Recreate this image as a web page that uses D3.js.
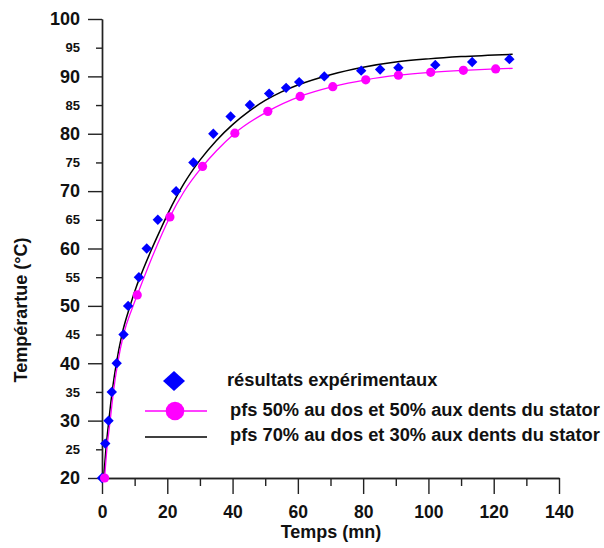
<!DOCTYPE html>
<html>
<head>
<meta charset="utf-8">
<script src="https://cdn.jsdelivr.net/npm/d3@7"></script>
<style>
  body { margin: 0; background: #fff; }
  text { font-family: "Liberation Sans", Arial, sans-serif; font-weight: bold; fill: #111; }
</style>
</head>
<body>
<div id="chart"></div>
<script>
// experimental measurements (time in min, temperature in °C)
const expTime = [0, 1, 2, 3, 4.5, 6.6, 8, 11.3, 13.7, 17.1, 22.7, 28, 34.1, 39.4, 45.3, 51.2, 56.4, 60.4, 68.1, 79.4, 85.2, 90.8, 102.1, 113.4, 124.8];
const expTemp = [20, 26, 30, 35, 40, 45, 50, 55, 60, 65, 70, 75, 80, 83, 85, 87, 88, 89, 90, 91, 91.2, 91.5, 92, 92.5, 93];

// model pfs 50/50 (magenta): curve + markers
const m50Time = [0.8, 1.5, 2.5, 3.5, 4.8, 6.6, 9.2, 10.8, 15, 20.8, 25, 30.8, 35, 40.7, 50.8, 60.7, 70.7, 80.8, 90.8, 100.7, 110.7, 120.6, 125.8];
const m50Temp = [20, 25, 30, 35, 40, 45, 49.5, 51.9, 58, 65.5, 69.8, 74.3, 77, 80.1, 83.9, 86.5, 88.2, 89.4, 90.2, 90.7, 91.05, 91.3, 91.4];
const m50MarkTime = [0.8, 10.8, 20.8, 30.8, 40.7, 50.8, 60.7, 70.7, 80.8, 90.8, 100.7, 110.7, 120.6];
const m50MarkTemp = [20, 51.9, 65.5, 74.3, 80.1, 83.9, 86.5, 88.2, 89.4, 90.2, 90.7, 91.05, 91.3];

// model pfs 70/30 (black)
const m70Time = [0.5, 1.2, 2.1, 3.1, 4.4, 6.1, 8.6, 10.5, 12.5, 15, 17.6, 20.3, 25, 30, 35, 40, 45, 50, 55, 60, 70, 80, 90, 100, 110, 125.8];
const m70Temp = [20, 25, 30, 35, 40, 45, 50, 53.3, 56.2, 59.6, 62.9, 66.2, 71.2, 75.4, 78.8, 81.6, 83.9, 85.8, 87.3, 88.5, 90.3, 91.6, 92.5, 93.05, 93.45, 93.85];

const xMajor = [0, 20, 40, 60, 80, 100, 120, 140];
const xMinor = [10, 30, 50, 70, 90, 110, 130];
const yMajor = [20, 30, 40, 50, 60, 70, 80, 90, 100];
const yMinor = [25, 35, 45, 55, 65, 75, 85, 95];

const legendLabels = [
  "résultats expérimentaux",
  "pfs 50% au dos et 50% aux dents du stator",
  "pfs 70% au dos et 30% aux dents du stator"
];

const width = 604, height = 548;
const svg = d3.select("#chart").append("svg")
  .attr("width", width)
  .attr("height", height);

const x = d3.scaleLinear().domain([0, 140]).range([102, 559]);
const y = d3.scaleLinear().domain([20, 100]).range([478, 19]);

const axisColor = "#222";

// x axis
const gx = svg.append("g").attr("transform", `translate(0, ${y(20)})`);
gx.append("g")
  .call(d3.axisBottom(x).tickValues(xMinor).tickSize(8).tickSizeOuter(0).tickFormat(""));
gx.append("g")
  .call(d3.axisBottom(x).tickValues(xMajor).tickSize(16).tickSizeOuter(0).tickPadding(12))
  .selectAll("text").style("font-size", "17.5px");

// y axis
const gy = svg.append("g").attr("transform", `translate(${x(0)}, 0)`);
gy.append("g")
  .call(d3.axisLeft(y).tickValues(yMinor).tickSize(6).tickSizeOuter(0).tickPadding(16))
  .selectAll("text").style("font-size", "13px");
gy.append("g")
  .call(d3.axisLeft(y).tickValues(yMajor).tickSize(14).tickSizeOuter(0).tickPadding(8))
  .selectAll("text").style("font-size", "18px");

svg.selectAll(".domain, .tick line").attr("stroke", axisColor).attr("stroke-width", 1.4);
svg.selectAll(".tick text").attr("fill", "#111").style("font-family", "'Liberation Sans', Arial, sans-serif").style("font-weight", "bold");

// axis titles
svg.append("text")
  .attr("x", 331).attr("y", 538)
  .attr("text-anchor", "middle")
  .style("font-size", "18px")
  .text("Temps (mn)");

svg.append("text")
  .attr("transform", "translate(27, 310) rotate(-90)")
  .attr("text-anchor", "middle")
  .style("font-size", "18px")
  .text("Tempérartue (°C)");

// curves
const line = d3.line().x(d => x(d[0])).y(d => y(d[1])).curve(d3.curveMonotoneX);

svg.append("path")
  .datum(m70Time.map((t, i) => [t, m70Temp[i]]))
  .attr("d", line)
  .attr("fill", "none")
  .attr("stroke", "#000")
  .attr("stroke-width", 1.5);

svg.append("path")
  .datum(m50Time.map((t, i) => [t, m50Temp[i]]))
  .attr("d", line)
  .attr("fill", "none")
  .attr("stroke", "#ff00ff")
  .attr("stroke-width", 1.3);

const diamond = r => `M0,${-r}L${r},0L0,${r}L${-r},0Z`;

svg.selectAll(".exp")
  .data(expTime.map((t, i) => [t, expTemp[i]]))
  .enter().append("path")
  .attr("class", "exp")
  .attr("transform", d => `translate(${x(d[0])}, ${y(d[1])})`)
  .attr("d", diamond(5.2))
  .attr("fill", "#0000ff");

svg.selectAll(".m50")
  .data(m50MarkTime.map((t, i) => [t, m50MarkTemp[i]]))
  .enter().append("circle")
  .attr("class", "m50")
  .attr("cx", d => x(d[0]))
  .attr("cy", d => y(d[1]))
  .attr("r", 4.6)
  .attr("fill", "#ff00ff");

// legend
const lg = svg.append("g");
lg.append("path")
  .attr("transform", "translate(174, 381)")
  .attr("d", "M0,-10L11,0L0,10L-11,0Z")
  .attr("fill", "#0000ff");
lg.append("line")
  .attr("x1", 145).attr("x2", 207).attr("y1", 411).attr("y2", 411)
  .attr("stroke", "#ff00ff").attr("stroke-width", 1.3);
lg.append("circle")
  .attr("cx", 175).attr("cy", 411).attr("r", 9.3)
  .attr("fill", "#ff00ff");
lg.append("line")
  .attr("x1", 145).attr("x2", 207).attr("y1", 437).attr("y2", 437)
  .attr("stroke", "#000").attr("stroke-width", 1.3);

const legendY = [386, 416, 441];
const legendX = [227, 230, 230];
lg.selectAll(".lab")
  .data(legendLabels)
  .enter().append("text")
  .attr("class", "lab")
  .attr("x", (d, i) => legendX[i])
  .attr("y", (d, i) => legendY[i])
  .style("font-size", "18.3px")
  .text(d => d);
</script>
</body>
</html>
